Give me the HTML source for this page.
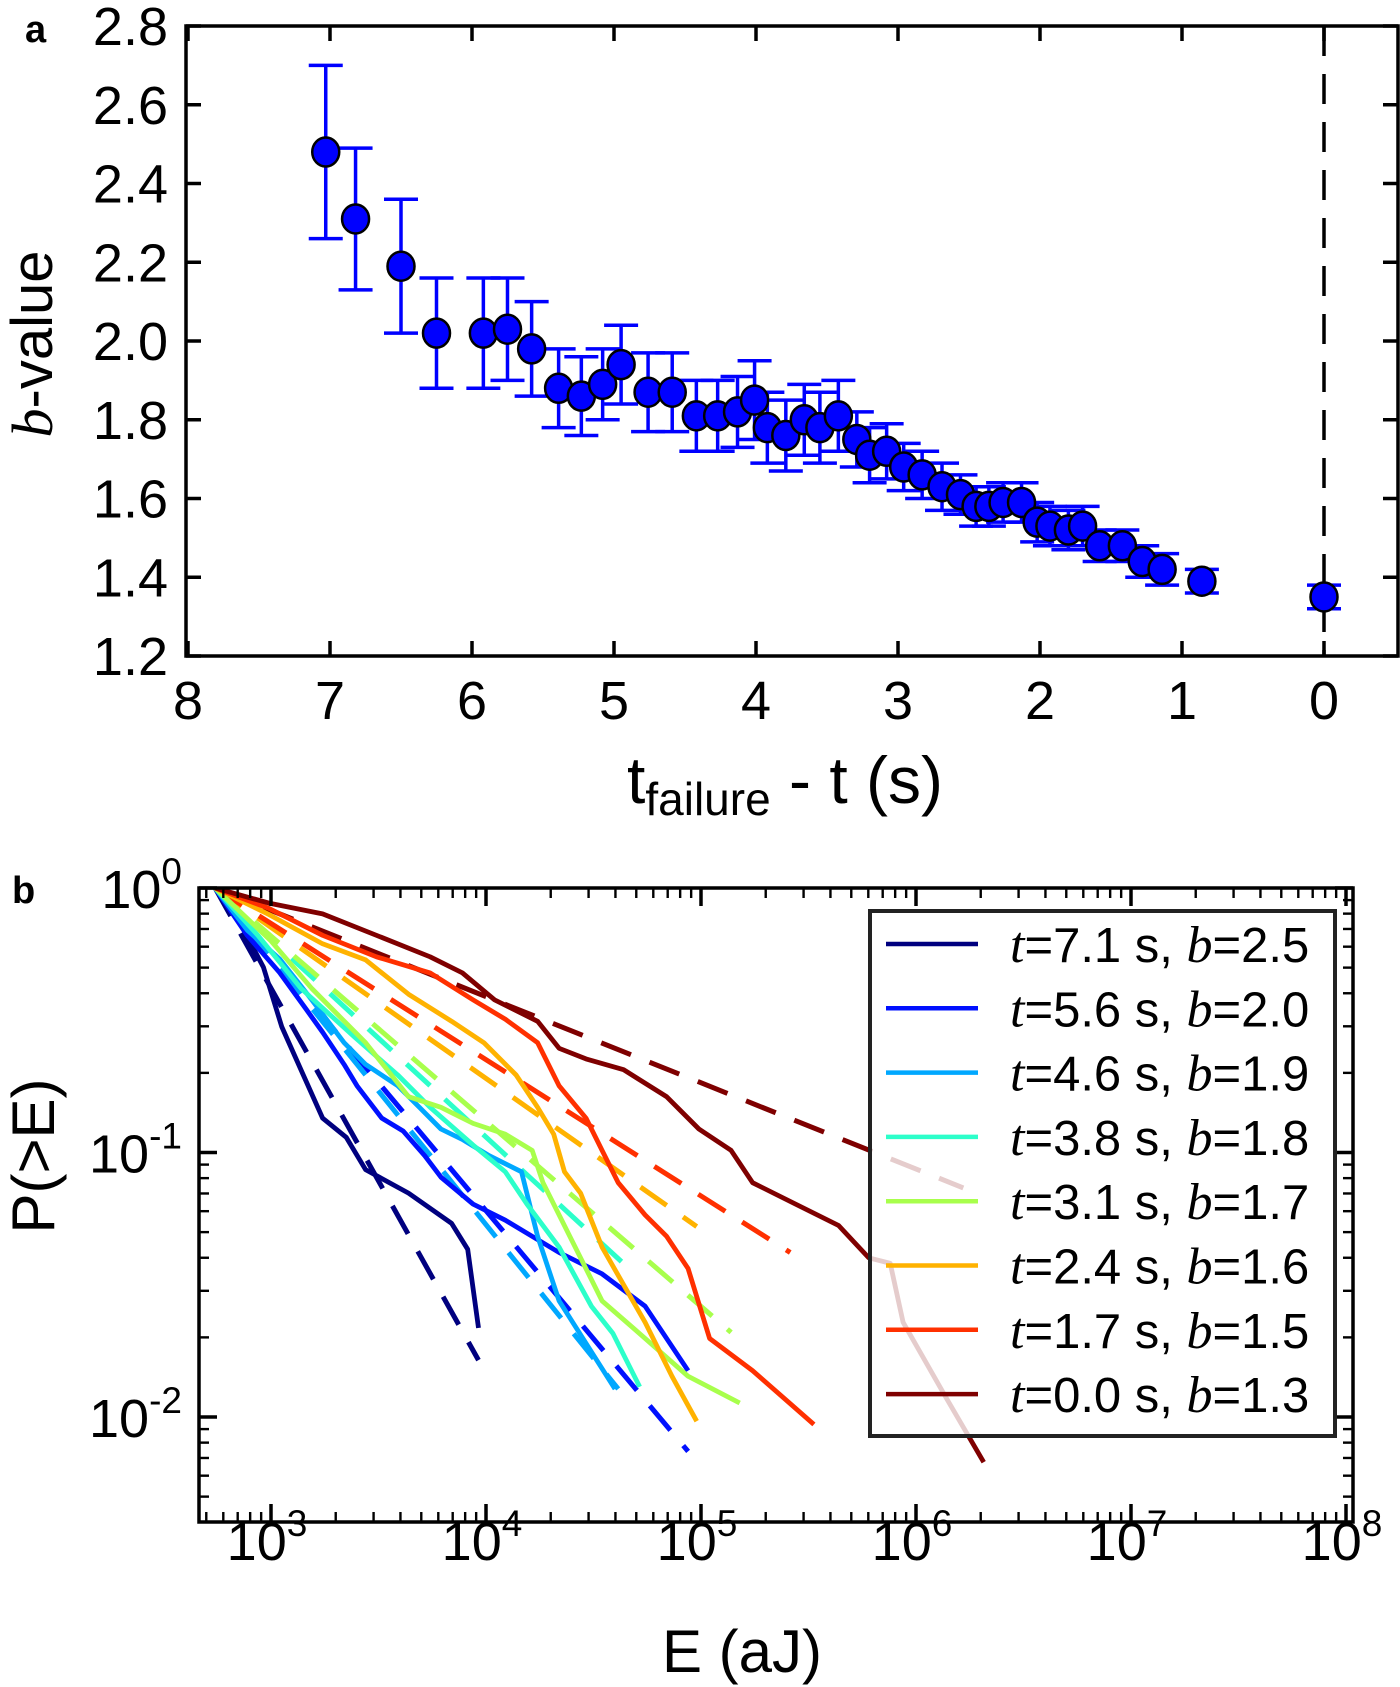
<!DOCTYPE html>
<html><head><meta charset="utf-8"><style>
html,body{margin:0;padding:0;background:#fff}
svg{display:block;font-family:"Liberation Sans","DejaVu Sans",sans-serif}
</style></head><body>
<svg id="fig" width="1400" height="1687" viewBox="0 0 1400 1687" xmlns="http://www.w3.org/2000/svg">
<g id="pa"></g>
<g id="pb"></g>
</svg>
<script>
// ---------- Panel a data ----------
const tVals=[7.03,6.82,6.50,6.25,5.92,5.75,5.58,5.39,5.23,5.08,4.95,4.76,4.59,4.42,4.27,4.13,4.01,3.92,3.79,3.66,3.55,3.42,3.29,3.20,3.08,2.96,2.83,2.69,2.56,2.45,2.36,2.26,2.13,2.02,1.93,1.80,1.70,1.58,1.42,1.28,1.14,0.86,0.00];
const bVals=[2.48,2.31,2.19,2.02,2.02,2.03,1.98,1.88,1.86,1.89,1.94,1.87,1.87,1.81,1.81,1.82,1.85,1.78,1.76,1.80,1.78,1.81,1.75,1.71,1.72,1.68,1.66,1.63,1.61,1.58,1.58,1.59,1.59,1.54,1.53,1.52,1.53,1.48,1.48,1.44,1.42,1.39,1.35];
const bErr=[0.22,0.18,0.17,0.14,0.14,0.13,0.12,0.10,0.10,0.09,0.10,0.10,0.10,0.09,0.09,0.09,0.10,0.09,0.09,0.09,0.09,0.09,0.07,0.07,0.07,0.06,0.06,0.06,0.05,0.05,0.05,0.05,0.05,0.05,0.05,0.05,0.05,0.04,0.04,0.04,0.04,0.03,0.03];
const aXTicks=[8,7,6,5,4,3,2,1,0];
const aYTicks=[1.2,1.4,1.6,1.8,2.0,2.2,2.4,2.6,2.8];

// ---------- Panel b data ----------
const seriesLabels=["7.1|2.5","5.6|2.0","4.6|1.9","3.8|1.8","3.1|1.7","2.4|1.6","1.7|1.5","0.0|1.3"];
const seriesColors=["#00007f","#0010ff","#00a8ff","#2cffca","#a8ff4c","#ffb200","#ff3000","#7f0000"];
const logE0=[2.74,2.865,2.965,3.05,3.15,3.24,3.35,3.44,3.64,3.84,3.915,3.965];
const logP0=[0,-0.146,-0.30,-0.524,-0.707,-0.87,-0.943,-1.065,-1.154,-1.268,-1.366,-1.663];
const logE1=[2.74,2.89,3.04,3.165,3.24,3.34,3.40,3.515,3.615,3.715,3.79,3.94,4.09,4.34,4.54,4.74,4.94];
const logP1=[0,-0.18,-0.32,-0.46,-0.545,-0.667,-0.748,-0.87,-0.919,-1.012,-1.093,-1.195,-1.256,-1.378,-1.459,-1.581,-1.825];
const logE2=[2.74,2.89,3.04,3.19,3.34,3.44,3.59,3.69,3.79,3.89,4.015,4.165,4.24,4.34,4.60];
const logP2=[0,-0.16,-0.268,-0.423,-0.585,-0.667,-0.748,-0.829,-0.911,-0.951,-1.012,-1.073,-1.317,-1.561,-1.894];
const logE3=[2.74,2.94,3.14,3.39,3.59,3.74,3.94,4.09,4.19,4.34,4.49,4.59,4.715];
const logP3=[0,-0.18,-0.38,-0.565,-0.707,-0.829,-0.972,-1.073,-1.195,-1.358,-1.581,-1.683,-1.886];
const logE4=[2.74,3.0,3.19,3.44,3.64,3.79,3.94,4.09,4.215,4.265,4.39,4.54,4.74,4.94,5.18];
const logP4=[0,-0.2,-0.38,-0.585,-0.789,-0.829,-0.89,-0.931,-0.992,-1.114,-1.317,-1.561,-1.703,-1.846,-1.947];
const logE5=[2.74,2.99,3.24,3.44,3.64,3.84,3.99,4.14,4.24,4.315,4.365,4.44,4.54,4.74,4.865,4.98];
const logP5=[0,-0.1,-0.211,-0.272,-0.402,-0.504,-0.585,-0.707,-0.829,-0.931,-1.073,-1.154,-1.358,-1.642,-1.846,-2.016];
const logE6=[2.74,2.99,3.24,3.49,3.74,3.94,4.09,4.24,4.34,4.465,4.54,4.615,4.74,4.84,4.94,5.04,5.24,5.525];
const logP6=[0,-0.077,-0.179,-0.26,-0.321,-0.423,-0.496,-0.585,-0.748,-0.87,-0.992,-1.114,-1.236,-1.317,-1.439,-1.703,-1.825,-2.028];
const logE7=[2.74,2.99,3.24,3.49,3.74,3.89,4.04,4.24,4.34,4.465,4.64,4.84,4.99,5.14,5.24,5.44,5.64,5.78,5.88,5.94,6.14,6.315];
const logP7=[0,-0.057,-0.098,-0.179,-0.26,-0.321,-0.423,-0.504,-0.606,-0.646,-0.687,-0.789,-0.911,-0.992,-1.114,-1.195,-1.276,-1.398,-1.419,-1.642,-1.927,-2.171];
const fitEndLogE=[3.965,4.94,4.615,4.64,5.14,4.98,5.415,6.22];
const fitEndLogP=[-1.785,-2.13,-1.894,-1.42,-1.68,-1.28,-1.378,-1.134];
const fitStartLogE=2.74, fitStartLogP=0;
const bXTickExp=[3,4,5,6,7,8];
const bYTickExp=[0,-1,-2];

const NS="http://www.w3.org/2000/svg";
function mk(tag,attrs,parent,text){const e=document.createElementNS(NS,tag);for(const k in attrs)e.setAttribute(k,attrs[k]);if(text!==undefined)e.textContent=text;parent.appendChild(e);return e;}

// ===== Panel a =====
const pa=document.getElementById('pa');
const A={L:186,R:1398,T:26,B:656};
const ax=v=>1324-(v)*142;
const ay=v=>A.T+(2.8-v)*393.75;
let lab=mk('text',{x:25,y:42,'font-size':38,'font-weight':'bold'},pa,'a');

let dl=mk('line',{x1:ax(0),x2:ax(0),y1:A.T,y2:A.B,stroke:'#000','stroke-width':3.5,'stroke-dasharray':'30,18'},pa);

for(let i=0;i<tVals.length;i++){
  const x=ax(tVals[i]),y1=ay(bVals[i]+bErr[i]),y2=ay(bVals[i]-bErr[i]);
  const g=mk('g',{},pa);
  
  mk('line',{x1:x,x2:x,y1:y1,y2:y2,stroke:'#0000ff','stroke-width':3.5},g);
  mk('line',{x1:x-17,x2:x+17,y1:y1,y2:y1,stroke:'#0000ff','stroke-width':3.5},g);
  mk('line',{x1:x-17,x2:x+17,y1:y2,y2:y2,stroke:'#0000ff','stroke-width':3.5},g);
}
for(let i=0;i<tVals.length;i++){
  const c=mk('ellipse',{cx:ax(tVals[i]),cy:ay(bVals[i]),rx:13.5,ry:14.5,fill:'#0000ff',stroke:'#000','stroke-width':2.5},pa);
  
}
let fr=mk('rect',{x:A.L,y:A.T,width:A.R-A.L,height:A.B-A.T,fill:'none',stroke:'#000','stroke-width':3.5},pa);

aXTicks.forEach(v=>{
  const x=ax(v);
  mk('line',{x1:x,x2:x,y1:A.B,y2:A.B-15,stroke:'#000','stroke-width':3.5},pa);
  mk('line',{x1:x,x2:x,y1:A.T,y2:A.T+15,stroke:'#000','stroke-width':3.5},pa);
  const t=mk('text',{x:x,y:719,'font-size':54,'text-anchor':'middle'},pa,String(v));
  
});
aYTicks.forEach(v=>{
  const y=ay(v);
  mk('line',{x1:A.L,x2:A.L+15,y1:y,y2:y,stroke:'#000','stroke-width':3.5},pa);
  mk('line',{x1:A.R,x2:A.R-15,y1:y,y2:y,stroke:'#000','stroke-width':3.5},pa);
  const t=mk('text',{x:168,y:y+19,'font-size':54,'text-anchor':'end'},pa,v.toFixed(1));
  
});
let xt=mk('text',{x:785,y:803,'font-size':66,'text-anchor':'middle'},pa);

mk('tspan',{},xt,'t');mk('tspan',{'font-size':46,dy:12},xt,'failure');mk('tspan',{dy:-12},xt,' - t (s)');
let yt=mk('text',{x:0,y:0,'font-size':58,'text-anchor':'middle',transform:'translate(52,344) rotate(-90)'},pa);

mk('tspan',{'font-style':'italic','font-family':'Liberation Serif, serif'},yt,'b');mk('tspan',{},yt,'-value');

// ===== Panel b =====
const pb=document.getElementById('pb');
const B={L:199,R:1353,T:888,B:1522};
const bx=le=>271+(le-3)*215;
const by=lp=>B.T-lp*264.5;
let lb=mk('text',{x:12,y:903,'font-size':38,'font-weight':'bold'},pb,'b');

const defs=mk('defs',{},pb);
const cp=mk('clipPath',{id:'clipb'},defs);
mk('rect',{x:B.L,y:B.T,width:B.R-B.L,height:B.B-B.T},cp);
const plot=mk('g',{'clip-path':'url(#clipb)'},pb);
const LE=[logE0,logE1,logE2,logE3,logE4,logE5,logE6,logE7];
const LP=[logP0,logP1,logP2,logP3,logP4,logP5,logP6,logP7];
for(let s=0;s<8;s++){
  const d=mk('line',{x1:bx(fitStartLogE),y1:by(fitStartLogP),x2:bx(fitEndLogE[s]),y2:by(fitEndLogP[s]),stroke:seriesColors[s],'stroke-width':5,'stroke-dasharray':'32,20'},plot);
  
}
for(let s=0;s<8;s++){
  const pts=LE[s].map((e,i)=>bx(e).toFixed(1)+','+by(LP[s][i]).toFixed(1)).join(' ');
  const p=mk('polyline',{points:pts,fill:'none',stroke:seriesColors[s],'stroke-width':4.8,'stroke-linejoin':'round'},plot);
  
}
let fb=mk('rect',{x:B.L,y:B.T,width:B.R-B.L,height:B.B-B.T,fill:'none',stroke:'#000','stroke-width':3.5},pb);

for(let d=2;d<=8;d++){for(let m=1;m<10;m++){
  const le=d+Math.log10(m);const x=bx(le);if(x<B.L||x>B.R)continue;
  const len=m===1?18:10;
  mk('line',{x1:x,x2:x,y1:B.B,y2:B.B-len,stroke:'#000','stroke-width':m===1?3.5:2.4},pb);
  mk('line',{x1:x,x2:x,y1:B.T,y2:B.T+len,stroke:'#000','stroke-width':m===1?3.5:2.4},pb);
}}
for(let d=-3;d<=0;d++){for(let m=1;m<10;m++){
  const lp=d+Math.log10(m);const y=by(lp);if(y<B.T-1||y>B.B)continue;
  const len=m===1?18:10;
  mk('line',{x1:B.L,x2:B.L+len,y1:y,y2:y,stroke:'#000','stroke-width':m===1?3.5:2.4},pb);
  mk('line',{x1:B.R,x2:B.R-len,y1:y,y2:y,stroke:'#000','stroke-width':m===1?3.5:2.4},pb);
}}
bXTickExp.forEach(e=>{
  const t=mk('text',{x:bx(e)-4,y:1560,'font-size':54,'text-anchor':'middle'},pb);
  
  mk('tspan',{},t,'10');mk('tspan',{'font-size':37,dy:-24},t,String(e));
});
bYTickExp.forEach(e=>{
  const t=mk('text',{x:182,y:by(e)+20,'font-size':54,'text-anchor':'end'},pb);
  
  mk('tspan',{},t,'10');mk('tspan',{'font-size':37,dy:-24},t,String(e));
});
let bxt=mk('text',{x:742,y:1672,'font-size':60,'text-anchor':'middle'},pb,'E (aJ)');

let byt=mk('text',{x:0,y:0,'font-size':60,'text-anchor':'middle',transform:'translate(54,1156) rotate(-90)'},pb,'P(>E)');

const leg=mk('g',{},pb);

mk('rect',{x:870,y:911,width:465,height:525,fill:'rgba(255,255,255,0.8)',stroke:'#222','stroke-width':4},leg);
for(let s=0;s<8;s++){
  const y=944+s*64.3;
  const en=mk('g',{},leg);
  
  mk('line',{x1:886,x2:978,y1:y,y2:y,stroke:seriesColors[s],'stroke-width':4.5},en);
  const parts=seriesLabels[s].split('|');
  const t=mk('text',{x:1010,y:y+18,'font-size':49},en);
  mk('tspan',{'font-style':'italic','font-family':'Liberation Serif, serif','font-size':52},t,'t');
  mk('tspan',{},t,'='+parts[0]+' s, ');
  mk('tspan',{'font-style':'italic','font-family':'Liberation Serif, serif','font-size':52},t,'b');
  mk('tspan',{},t,'='+parts[1]);
}
</script>
</body></html>
